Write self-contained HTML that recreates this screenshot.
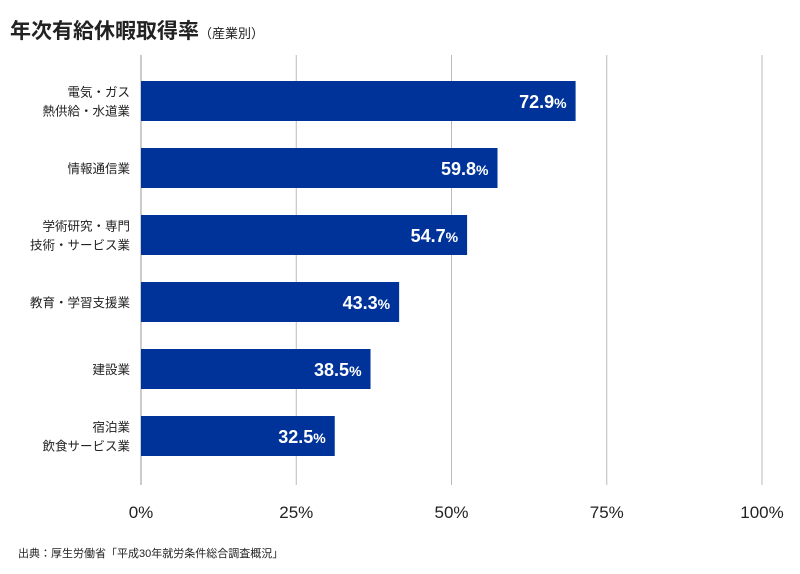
<!DOCTYPE html>
<html><head><meta charset="utf-8"><style>
body{margin:0;background:#fff;font-family:"Liberation Sans","Noto Sans CJK JP",sans-serif;}
svg text{font-family:"Liberation Sans","Noto Sans CJK JP",sans-serif;}
</style></head><body>
<svg width="800" height="569" viewBox="0 0 800 569">
<text x="10" y="38" font-size="21" font-weight="bold" fill="#222">年次有給休暇取得率<tspan font-size="13" font-weight="normal">（産業別）</tspan></text>
<g id="grid"></g><g id="bars"></g><g id="ticks"></g><g id="cats"></g>
<text x="18" y="557" font-size="11" fill="#222">出典：厚生労働省「平成30年就労条件総合調査概況」</text>
</svg>
<script>
const categories=[["電気・ガス","熱供給・水道業"],["情報通信業"],["学術研究・専門","技術・サービス業"],["教育・学習支援業"],["建設業"],["宿泊業","飲食サービス業"]];
const values=[72.9,59.8,54.7,43.3,38.5,32.5];
const ticks=[0,25,50,75,100];
const NS="http://www.w3.org/2000/svg";
const x0=141,x1=762,yTop=55,yBot=485,band0=81,step=67,bh=40;
const xs=v=>x0+(x1-x0)*v/100*0.96;
const xt=v=>x0+(x1-x0)*v/100;
function mk(t,a,p){const e=document.createElementNS(NS,t);for(const k in a)e.setAttribute(k,a[k]);p.appendChild(e);return e;}
const g=document.getElementById('grid'),b=document.getElementById('bars'),tk=document.getElementById('ticks'),c=document.getElementById('cats');
ticks.forEach(t=>{
 const l=mk('line',{x1:xt(t),x2:xt(t),y1:yTop,y2:yBot,stroke:t===0?'#999':'#bbb','stroke-width':1},g);
 
 
 const tx=mk('text',{x:xt(t),y:518,'font-size':17,'text-anchor':'middle',fill:'#222'},tk);
 tx.textContent=t+'%';
 
 
});
values.forEach((v,i)=>{
 const y=band0+i*step;
 const r=mk('rect',{x:x0,y:y,width:xs(v)-x0,height:bh,fill:'#003399'},b);
 
 
 const t=mk('text',{x:xs(v)-9,y:y+27,'font-size':18,'font-weight':'bold','text-anchor':'end',fill:'#fff'},b);
 t.innerHTML=v.toFixed(1)+'<tspan font-size="14">%</tspan>';
 
 
 const lines=categories[i];
 lines.forEach((s,j)=>{
  const ct=mk('text',{x:130,y:y+bh/2+5+(j-(lines.length-1)/2)*19,'font-size':12.5,'text-anchor':'end',fill:'#222'},c);
  ct.textContent=s;
  
  
 });
});
</script>
</body></html>
